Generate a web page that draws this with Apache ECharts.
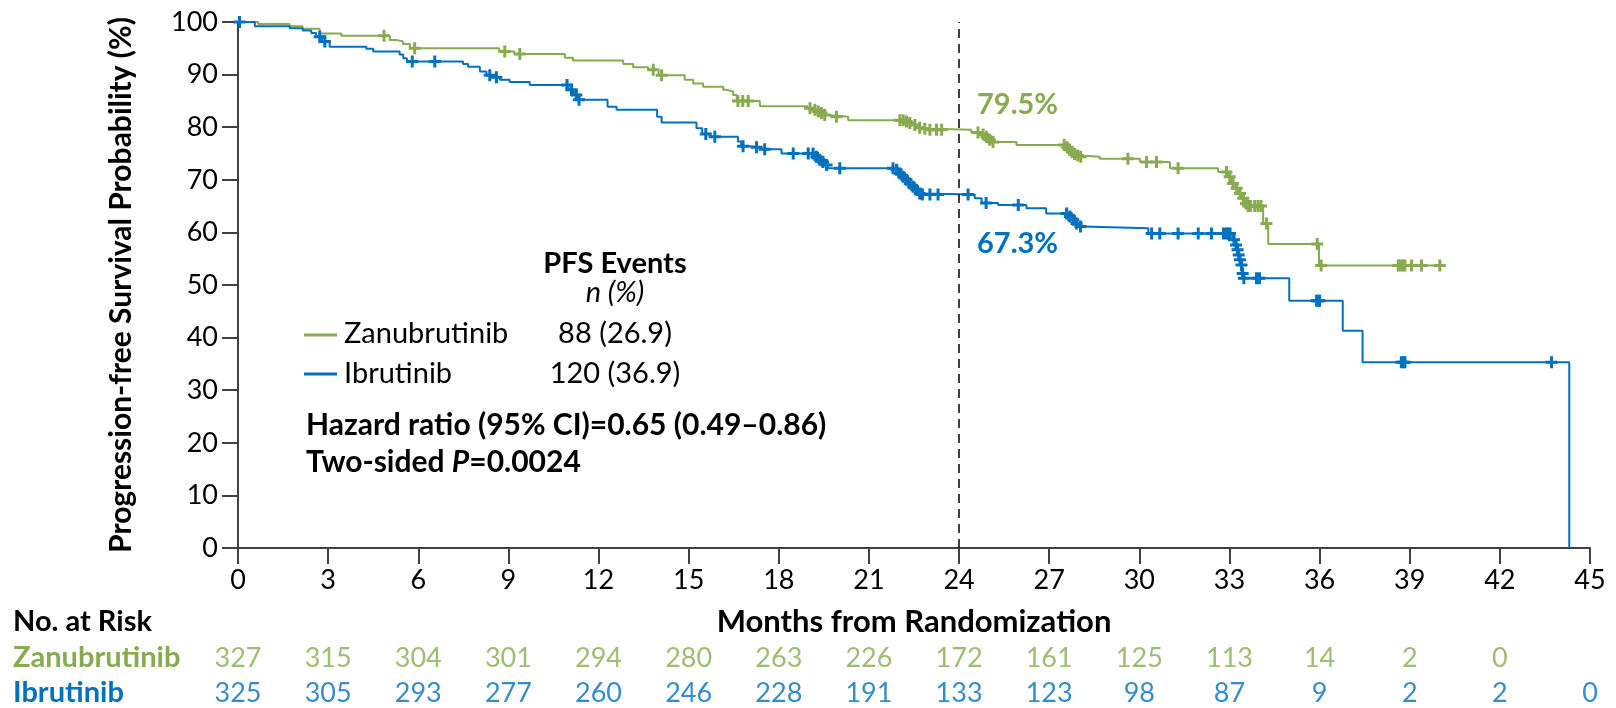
<!DOCTYPE html>
<html>
<head>
<meta charset="utf-8">
<script src="https://cdn.jsdelivr.net/npm/echarts@6.0.0/dist/echarts.min.js"></script>
<style>
html,body{margin:0;padding:0;background:#fff;}
#chart{width:1616px;height:708px;}
</style>
</head>
<body>
<div id="chart"></div>
<script>
// ---------- DATA ----------
const xTicks = [0,3,6,9,12,15,18,21,24,27,30,33,36,39,42,45];
const riskZanu = [327,315,304,301,294,280,263,226,172,161,125,113,14,2,0];
const riskIbru = [325,305,293,277,260,246,228,191,133,123,98,87,9,2,2,0];

// Zanubrutinib KM steps [month, survival %]
const zanuSteps = [
  [0,100],[0.67,99.6],[1.72,99.2],[2.15,98.7],[2.72,97.8],[3.44,97.4],
  [5.05,96.6],[5.27,96.3],[5.49,95.8],[5.72,95.0],[8.69,94.4],[9.2,93.9],
  [10.88,93.2],[11.15,92.7],[12.82,92.0],[13.15,91.4],[13.65,90.9],[14.0,89.9],
  [14.87,89.0],[15.15,88.3],[15.48,87.7],[16.15,87.1],[16.26,86.8],[16.48,86.1],
  [16.6,85.0],[17.37,84.0],[18.95,83.6],[19.12,83.3],[19.26,83.0],[19.37,82.7],
  [19.48,82.3],[19.6,82.0],[20.31,81.3],[22.2,81.1],[22.3,80.8],[22.45,80.4],
  [22.6,79.9],[22.78,79.7],[22.95,79.5],[24.41,79.0],[24.75,78.6],[24.86,78.2],
  [24.97,77.6],[25.1,77.2],[25.91,76.6],[27.55,76.2],[27.64,75.7],[27.72,75.3],
  [27.8,74.9],[27.9,74.6],[28.0,74.4],[28.68,74.0],[30.02,73.4],[31.02,72.2],
  [32.62,71.5],[32.95,70.6],[33.06,69.3],[33.17,68.4],[33.28,67.4],[33.38,66.5],
  [33.48,65.5],[33.6,65.0],[34.12,61.7],[34.29,57.8],[35.98,53.7],[40.2,53.7]
];
const zanuCensor = [
  [4.86,97.4],[5.88,95.0],[8.88,94.4],[9.38,93.9],[13.82,90.9],[14.1,89.9],
  [16.64,85.0],[16.8,85.0],[16.98,85.0],[19.04,83.6],[19.2,83.3],[19.31,83.0],
  [19.42,82.7],[19.53,82.3],[19.92,82.0],[22.03,81.3],[22.14,81.3],[22.25,81.1],
  [22.36,80.8],[22.53,80.4],[22.69,79.9],[22.86,79.7],[23.03,79.5],[23.25,79.5],
  [23.42,79.5],[24.63,79.0],[24.8,78.6],[24.91,78.2],[25.02,77.6],[25.13,77.2],
  [27.5,76.6],[27.6,76.2],[27.68,75.7],[27.76,75.3],[27.84,74.9],[27.95,74.6],
  [28.05,74.4],[29.62,74.0],[30.24,73.4],[30.57,73.4],[31.29,72.2],
  [32.9,71.5],[33.01,70.6],[33.12,69.3],[33.24,68.4],[33.35,67.4],[33.46,66.5],
  [33.55,65.5],[33.62,65.0],[33.7,65.0],[33.84,65.0],[33.95,65.0],[34.05,65.0],
  [34.23,61.7],[35.92,57.8],[36.05,53.7],[38.62,53.7],[38.7,53.7],[38.78,53.7],
  [38.84,53.7],[39.06,53.7],[39.39,53.7],[40.0,53.7]
];

// Ibrutinib KM steps [month, survival %]
const ibruSteps = [
  [0,100],[0.56,99.2],[1.72,98.8],[2.15,98.4],[2.44,97.9],[2.6,97.2],[2.8,96.3],
  [3.05,95.3],[4.27,94.9],[4.5,94.4],[5.38,93.8],[5.5,93.1],[5.62,92.5],
  [7.49,92.0],[7.66,91.5],[8.05,90.6],[8.27,89.9],[8.5,89.5],[8.71,89.0],
  [9.04,88.6],[9.71,88.0],[11.0,87.1],[11.18,86.1],[11.3,85.2],[12.3,83.9],
  [12.6,83.3],[13.95,82.0],[14.1,80.9],[15.26,79.8],[15.45,78.7],[15.7,78.2],
  [16.64,77.3],[16.75,76.4],[17.0,76.2],[17.4,75.8],[18.09,75.0],[19.2,74.4],
  [19.3,73.8],[19.4,73.4],[19.52,72.8],[19.63,72.2],[21.85,71.9],[21.97,71.2],
  [22.08,70.6],[22.2,70.0],[22.3,69.3],[22.42,68.7],[22.52,68.1],[22.63,67.4],
  [22.72,67.2],[24.52,66.5],[24.75,65.6],[25.3,65.2],[26.24,64.6],[26.9,63.6],
  [27.64,63.0],[27.75,62.4],[27.86,61.7],[27.98,61.1],[28.12,60.8],[30.3,59.8],
  [33.1,58.6],[33.2,57.6],[33.25,56.7],[33.3,55.7],[33.33,54.8],[33.37,53.8],
  [33.42,52.2],[33.45,51.3],[34.99,47.0],[36.77,41.3],[37.43,35.3],[44.31,0]
];
const ibruCensor = [
  [0.05,100],[2.72,97.2],[2.89,96.3],[5.8,92.5],[6.55,92.5],[8.38,89.9],[8.6,89.5],
  [10.95,88.0],[11.1,87.1],[11.26,86.1],[11.35,85.2],[15.57,78.7],[15.87,78.2],
  [16.81,76.4],[17.26,76.2],[17.53,75.8],[18.48,75.0],[18.98,75.0],[19.14,75.0],
  [19.25,74.4],[19.36,73.8],[19.47,73.4],[19.59,72.8],[20.03,72.2],[21.8,72.2],
  [21.92,71.9],[22.03,71.2],[22.14,70.6],[22.25,70.0],[22.36,69.3],[22.47,68.7],
  [22.58,68.1],[22.69,67.4],[22.78,67.2],[23.03,67.2],[23.3,67.2],[24.3,67.2],
  [24.9,65.6],[25.97,65.2],[27.58,63.6],[27.69,63.0],[27.8,62.4],[27.91,61.7],
  [28.04,61.1],[30.41,59.8],[30.68,59.8],[31.29,59.8],[31.96,59.8],[32.4,59.8],
  [32.8,59.8],[32.9,59.8],[32.96,59.8],[33.02,59.8],[33.15,58.6],[33.22,57.6],
  [33.27,56.7],[33.31,55.7],[33.35,54.8],[33.4,53.8],[33.44,52.2],[33.48,51.3],
  [33.9,51.3],[34.0,51.3],[35.9,47.0],[35.95,47.0],[36.0,47.0],[38.72,35.3],
  [38.78,35.3],[38.84,35.3],[43.72,35.3]
];

// ---------- STYLE ----------
const GREEN = '#88AB4F';
const BLUE = '#0070C0';
const AXIS = '#404040';
const FONT = 'Lato, "Open Sans", sans-serif';
const PLUS = 'path://M3.75,0H6.25V3.75H10V6.25H6.25V10H3.75V6.25H0V3.75H3.75Z';

const riskData = [];
riskZanu.forEach((v,i)=>riskData.push({value:[xTicks[i],1,v], label:{color:GREEN}}));
riskIbru.forEach((v,i)=>riskData.push({value:[xTicks[i],0,v], label:{color:BLUE}}));

const chart = echarts.init(document.getElementById('chart'), null, {renderer:'canvas'});
const txt = (x,y,text,o={}) => ({
  type:'text', x, y, silent:true,
  style: Object.assign({text, fill:'#000', fontFamily:FONT, fontSize:29,
    fontWeight:'normal', align:'left', verticalAlign:'middle'}, o.style||{}),
  rotation: o.rotation||0
});

chart.setOption({
  animation:false,
  backgroundColor:'#fff',
  textStyle:{fontFamily:FONT},
  grid:[
    {left:238, right:26, top:22, bottom:160, containLabel:false},
    {left:238, right:26, top:658, bottom:15, containLabel:false}
  ],
  xAxis:[
    {type:'value', gridIndex:0, min:0, max:45, interval:3,
     axisLine:{show:true, onZero:false, lineStyle:{color:AXIS, width:2}},
     axisTick:{show:true, inside:false, length:16, lineStyle:{color:AXIS, width:2}},
     axisLabel:{color:'#000', fontSize:27, margin:19, fontFamily:FONT},
     splitLine:{show:false}},
    {type:'value', gridIndex:1, min:0, max:45, show:false}
  ],
  yAxis:[
    {type:'value', gridIndex:0, min:0, max:100, interval:10,
     axisLine:{show:true, onZero:false, lineStyle:{color:AXIS, width:2}},
     axisTick:{show:true, inside:false, length:16, lineStyle:{color:AXIS, width:2}},
     axisLabel:{color:'#000', fontSize:27, margin:20, fontFamily:FONT},
     splitLine:{show:false}},
    {type:'value', gridIndex:1, min:0, max:1, show:false}
  ],
  series:[
    {type:'line', name:'Zanubrutinib', data:zanuSteps, step:'end', showSymbol:false,
     lineStyle:{color:GREEN, width:2}, itemStyle:{color:GREEN}, z:3,
     markLine:{silent:true, symbol:'none', label:{show:false},
       lineStyle:{color:'#000', type:[9,6], width:1.5}, data:[{xAxis:24}]}},
    {type:'line', name:'Ibrutinib', data:ibruSteps, step:'end', showSymbol:false,
     lineStyle:{color:BLUE, width:2}, itemStyle:{color:BLUE}, z:3},
    {type:'scatter', data:zanuCensor, symbol:PLUS, symbolSize:12,
     itemStyle:{color:GREEN, opacity:1}, z:4},
    {type:'scatter', data:ibruCensor, symbol:PLUS, symbolSize:12,
     itemStyle:{color:BLUE, opacity:1}, z:5},
    {type:'scatter', xAxisIndex:1, yAxisIndex:1, data:riskData, symbolSize:1,
     itemStyle:{color:'rgba(0,0,0,0)'},
     label:{show:true, position:'inside', fontSize:27, fontFamily:FONT,
       formatter:p=>String(p.value[2])}}
  ],
  graphic:[
    txt(121, 285, 'Progression-free Survival Probability (%)',
      {rotation:Math.PI/2, style:{align:'center', fontWeight:'bold', fontSize:30}}),
    txt(914, 622, 'Months from Randomization', {style:{align:'center', fontWeight:'bold', fontSize:31}}),
    txt(13, 622, 'No. at Risk', {style:{fontWeight:'bold'}}),
    txt(13, 658, 'Zanubrutinib', {style:{fontWeight:'bold', fill:GREEN}}),
    txt(13, 693, 'Ibrutinib', {style:{fontWeight:'bold', fill:BLUE}}),
    txt(615, 264, 'PFS Events', {style:{align:'center', fontWeight:'bold'}}),
    txt(615, 293, 'n (%)', {style:{align:'center', fontStyle:'italic'}}),
    {type:'line', shape:{x1:304,y1:335,x2:337,y2:335}, style:{stroke:GREEN, lineWidth:3}},
    {type:'line', shape:{x1:304,y1:374,x2:337,y2:374}, style:{stroke:BLUE, lineWidth:3}},
    txt(344, 334, 'Zanubrutinib'),
    txt(344, 374, 'Ibrutinib'),
    txt(615, 334, '88 (26.9)', {style:{align:'center'}}),
    txt(615, 374, '120 (36.9)', {style:{align:'center'}}),
    txt(306, 425, 'Hazard ratio (95% CI)=0.65 (0.49\u20130.86)', {style:{fontWeight:'bold', fontSize:30}}),
    {type:'text', x:306, y:462, silent:true, style:{
      text:'{b|Two-sided }{i|P}{b|=0.0024}', verticalAlign:'middle', align:'left',
      rich:{b:{fontFamily:FONT, fontSize:30, fontWeight:'bold', fill:'#000'},
            i:{fontFamily:FONT, fontSize:30, fontWeight:'bold', fontStyle:'italic', fill:'#000'}}}},
    txt(977, 105, '79.5%', {style:{fontWeight:'bold', fill:GREEN, fontSize:29}}),
    txt(977, 244, '67.3%', {style:{fontWeight:'bold', fill:BLUE, fontSize:29}})
  ]
});
</script>
</body>
</html>
